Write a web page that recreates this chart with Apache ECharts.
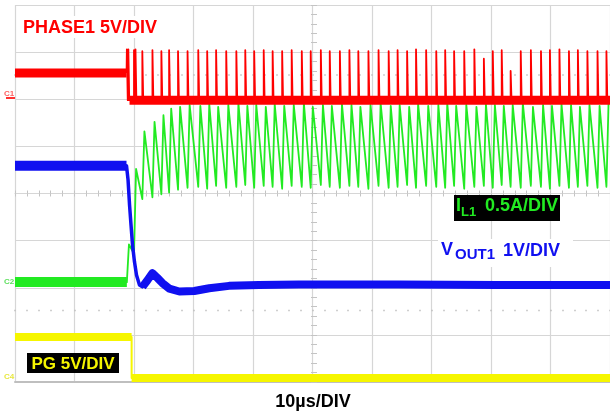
<!DOCTYPE html>
<html>
<head>
<meta charset="utf-8">
<script src="https://cdn.jsdelivr.net/npm/echarts@6/dist/echarts.min.js"></script>
<style>
html,body{margin:0;padding:0;background:#fff;}
#scope{width:610px;height:414px;}
</style>
</head>
<body>
<div id="scope"></div>
<script>
// ---- Time base: 10 µs/div, 10 divisions; 8 vertical divisions ----
const timeSpan = [0, 100];      // µs
const divSpan = [0, 8];         // vertical divisions

// ---- Channel 1: PHASE1 (V), 5 V/div ----
const phaseIdle = 2.79;          // level before switching starts
const phaseLow = -0.1;           // level between pulses
const phaseFirstEdge = 18.75;    // µs
const phaseSpikeTimes = [
  18.8, 19.05, 20.0, 20.25, 21.4, 23.1, 24.6, 25.9, 27.4, 29.0,
  30.8, 32.3, 33.8, 35.5, 37.2, 38.7, 40.2, 41.8, 43.3, 44.9,
  46.5, 48.2, 49.7, 51.4, 52.9, 54.6, 56.2, 57.7, 59.4, 61.1,
  62.8, 64.3, 65.9, 67.4, 69.1, 70.8, 72.3, 73.8, 75.5, 77.2,
  78.8, 80.3, 81.8, 83.3, 85.0, 86.7, 88.4, 89.9, 91.5, 93.1,
  94.6, 96.2, 97.9, 99.4
];
const phaseSpikeVolts = [
  5.3, 5.3, 5.2, 5.3, 5.1, 5.2, 5.1, 5.2, 5.1, 5.1,
  5.2, 5.1, 5.2, 5.1, 5.1, 5.2, 5.1, 5.2, 5.1, 5.1,
  5.2, 5.1, 5.1, 5.2, 5.1, 5.1, 5.2, 5.1, 5.1, 5.2,
  5.1, 5.2, 5.1, 5.3, 5.2, 5.1, 5.2, 5.1, 5.1, 5.3,
  4.3, 5.1, 5.2, 3.0, 5.1, 5.2, 5.1, 5.2, 5.3, 5.1,
  5.2, 5.1, 5.1, 5.1
];

// ---- Channel 2: IL1 (A), 0.5 A/div ----
const ilIdle = 0.0;
const ilCycleTimes = [
  18.8, 20.0, 21.4, 23.1, 24.6, 25.9, 27.4, 29.0, 30.8, 32.3,
  33.8, 35.5, 37.2, 38.7, 40.2, 41.8, 43.3, 44.9, 46.5, 48.2,
  49.7, 51.4, 52.9, 54.6, 56.2, 57.7, 59.4, 61.1, 62.8, 64.3,
  65.9, 67.4, 69.1, 70.8, 72.3, 73.8, 75.5, 77.2, 78.8, 80.3,
  81.8, 83.3, 85.0, 86.7, 88.4, 89.9, 91.5, 93.1, 94.6, 96.2,
  97.9, 99.4
];
const ilValley = [
  0.00, 0.30, 0.88, 0.90, 0.93, 0.95, 0.98, 1.00, 1.01, 0.99,
  1.02, 1.00, 1.01, 1.03, 1.00, 1.02, 1.01, 0.99, 1.02, 1.01,
  1.00, 1.03, 1.01, 1.00, 1.02, 1.01, 0.99, 1.02, 1.00, 1.01,
  1.03, 1.00, 1.02, 1.01, 1.00, 1.02, 0.99, 1.01, 1.02, 1.00,
  1.03, 1.01, 1.00, 1.02, 1.01, 0.99, 1.02, 1.00, 1.01, 1.02,
  1.00, 1.01
];
const ilPeak = [
  0.40, 1.20, 1.60, 1.70, 1.77, 1.84, 1.86, 1.88, 1.87, 1.89,
  1.86, 1.88, 1.90, 1.87, 1.88, 1.86, 1.89, 1.87, 1.88, 1.90,
  1.86, 1.88, 1.87, 1.89, 1.88, 1.86, 1.88, 1.90, 1.87, 1.88,
  1.86, 1.89, 1.87, 1.88, 1.90, 1.87, 1.88, 1.86, 1.89, 1.88,
  1.87, 1.88, 1.90, 1.86, 1.88, 1.87, 1.89, 1.88, 1.86, 1.88,
  1.87, 1.89
];

// ---- Channel 3: VOUT1 (V), 1 V/div ----
const voutTimes = [0, 18.74, 19.0, 19.25, 19.5, 19.75, 20.08, 20.42, 20.92, 21.42,
  22.26, 23.10, 23.93, 24.77, 25.94, 27.62, 30.13, 32.64, 35.98, 41.0, 47.7, 64.4, 81.2, 100];
const voutVolts = [3.33, 3.33, 3.03, 2.50, 2.07, 1.65, 1.29, 1.01, 0.80, 0.76,
  0.90, 1.05, 0.95, 0.84, 0.72, 0.66, 0.67, 0.73, 0.78, 0.80, 0.81, 0.81, 0.80, 0.80];

// ---- Channel 4: PG (V), 5 V/div ----
const pgTimes = [0, 19.6, 19.6, 100];
const pgVolts = [4.35, 4.35, 0.0, 0.0];

// ---- Channel vertical settings (ground position in divisions, units per division) ----
const ch1 = { ground: 6.0, perDiv: 5 };
const ch2 = { ground: 2.12, perDiv: 0.5 };
const ch3 = { ground: 1.26, perDiv: 1 };
const ch4 = { ground: 0.085, perDiv: 5 };

const toDiv = (ch, pts) => pts.map(([t, v]) => [t, ch.ground + v / ch.perDiv]);
const zip = (ts, vs) => ts.map((t, i) => [t, vs[i]]);

const SPIKE_W = 0.15;   // µs, pulse width of the phase node
const RISE_W = 0.35;    // µs, inductor current ramp-up

// PHASE1 pulses
const phasePulse = [[phaseFirstEdge, phaseIdle]];
phaseSpikeTimes.forEach((t, i) => {
  phasePulse.push([t, phaseLow], [t, phaseSpikeVolts[i]], [t + SPIKE_W, phaseSpikeVolts[i]], [t + SPIKE_W, phaseLow]);
});
phasePulse[1] = [phaseSpikeTimes[0], phaseIdle];
const phaseBandIdle = [[timeSpan[0], phaseIdle], [phaseFirstEdge, phaseIdle]];
const phaseBandLow = [[19.25, phaseLow], [timeSpan[1], phaseLow]];

// IL1 sawtooth
const ilWave = [[timeSpan[0], ilIdle]];
ilCycleTimes.forEach((t, i) => {
  ilWave.push([t, ilValley[i]], [t + RISE_W, ilPeak[i]]);
});
const ilBand = [[timeSpan[0], ilIdle], [ilCycleTimes[0], ilIdle]];

// VOUT1
const voutWave = zip(voutTimes, voutVolts);
const voutBandPre = voutWave.filter(p => p[0] <= 18.74);
const voutBandPost = voutWave.filter(p => p[0] >= 21.42);

// PG
const pgWave = zip(pgTimes, pgVolts);
const pgBandHigh = pgWave.slice(0, 2);
const pgBandLow = pgWave.slice(2);

const RED = '#ff0000', GREEN = '#22ea22', BLUE = '#1010f0', YELLOW = '#f6f600';
const GRID = '#d6d6d6';
const FONT = '"Liberation Sans", Arial, sans-serif';

function trace(data, color, width, z) {
  return {
    type: 'line', data, showSymbol: false, silent: true, animation: false,
    xAxisIndex: 0, yAxisIndex: 0, z,
    lineStyle: { color, width, join: 'round', cap: 'butt' }
  };
}

function hAxis(extra) {
  return Object.assign({
    type: 'value', gridIndex: 0, min: timeSpan[0], max: timeSpan[1], interval: 2,
    axisLabel: { show: false }, splitLine: { show: false },
    axisLine: { show: false }, axisTick: { show: false }
  }, extra);
}
function vAxis(extra) {
  return Object.assign({
    type: 'value', gridIndex: 0, min: divSpan[0], max: divSpan[1], interval: 0.2,
    axisLabel: { show: false }, splitLine: { show: false },
    axisLine: { show: false }, axisTick: { show: false }
  }, extra);
}

const chart = echarts.init(document.getElementById('scope'), null, { renderer: 'canvas' });

chart.setOption({
  animation: false,
  backgroundColor: '#ffffff',
  grid: { left: 15, top: 5, width: 598, height: 377 },
  xAxis: [
    // main graticule (verticals)
    hAxis({ interval: 10, position: 'bottom', splitLine: { show: true, lineStyle: { color: GRID, width: 1.2 } } }),
    // top frame
    hAxis({ interval: 10, position: 'top', axisLine: { show: true, lineStyle: { color: '#bfbfbf', width: 2 } } }),
    // center horizontal with minor ticks
    hAxis({ position: 'bottom', offset: -188.5, axisLine: { show: true, lineStyle: { color: GRID, width: 1.2 } },
      axisTick: { show: true, inside: true, length: 3, lineStyle: { color: '#c4c4c4', width: 1 } } }),
    hAxis({ position: 'bottom', offset: -188.5,
      axisTick: { show: true, inside: false, length: 3, lineStyle: { color: '#c4c4c4', width: 1 } } }),
    // dotted rows
    hAxis({ position: 'bottom', offset: -70.7,
      axisTick: { show: true, inside: true, length: 1.5, lineStyle: { color: '#c0c0c0', width: 1.5 } } }),
    hAxis({ position: 'bottom', offset: -306.3,
      axisTick: { show: true, inside: true, length: 1.5, lineStyle: { color: '#c0c0c0', width: 1.5 } } })
  ],
  yAxis: [
    vAxis({ interval: 1, position: 'left', splitLine: { show: true, lineStyle: { color: GRID, width: 1.2 } } }),
    // center vertical with minor ticks
    vAxis({ position: 'left', offset: -299,
      axisTick: { show: true, inside: true, length: 3, lineStyle: { color: '#c4c4c4', width: 1 } } }),
    vAxis({ position: 'left', offset: -299,
      axisTick: { show: true, inside: false, length: 3, lineStyle: { color: '#c4c4c4', width: 1 } } })
  ],
  series: [
    trace(toDiv(ch4, pgWave), YELLOW, 2, 2),
    trace(toDiv(ch4, pgBandHigh), YELLOW, 8, 2),
    trace(toDiv(ch4, pgBandLow), YELLOW, 8, 2),
    trace(toDiv(ch2, ilBand), GREEN, 10, 3),
    trace(toDiv(ch2, ilWave), GREEN, 1.8, 3),
    trace(toDiv(ch3, voutWave), BLUE, 3.5, 4),
    trace(toDiv(ch3, voutBandPre), BLUE, 10, 4),
    trace(toDiv(ch3, voutBandPost), BLUE, 8, 4),
    trace(toDiv(ch1, phaseBandIdle), RED, 9, 5),
    trace(toDiv(ch1, phaseBandLow), RED, 9, 5),
    trace(toDiv(ch1, phasePulse), RED, 1.8, 5)
  ],
  graphic: [
    // channel 1 title
    { type: 'rect', shape: { x: 20, y: 16, width: 146, height: 22 }, style: { fill: '#ffffff' }, z: 10 },
    { type: 'text', x: 23, y: 28, z: 11,
      style: { text: 'PHASE1 5V/DIV', fill: RED, font: 'bold 18px ' + FONT, textVerticalAlign: 'middle' } },
    // channel 2 title
    { type: 'rect', shape: { x: 454, y: 195, width: 106, height: 26 }, style: { fill: '#000000' }, z: 10 },
    { type: 'text', x: 456, y: 206, z: 11,
      style: { text: 'I', fill: GREEN, font: 'bold 18px ' + FONT, textVerticalAlign: 'middle' } },
    { type: 'text', x: 461, y: 212, z: 11,
      style: { text: 'L1', fill: GREEN, font: 'bold 13px ' + FONT, textVerticalAlign: 'middle' } },
    { type: 'text', x: 485, y: 206, z: 11,
      style: { text: '0.5A/DIV', fill: GREEN, font: 'bold 18px ' + FONT, textVerticalAlign: 'middle' } },
    // channel 3 title
    { type: 'rect', shape: { x: 438, y: 239, width: 135, height: 28 }, style: { fill: '#ffffff' }, z: 10 },
    { type: 'text', x: 441, y: 250, z: 11,
      style: { text: 'V', fill: BLUE, font: 'bold 18px ' + FONT, textVerticalAlign: 'middle' } },
    { type: 'text', x: 455, y: 255, z: 11,
      style: { text: 'OUT1', fill: BLUE, font: 'bold 15px ' + FONT, textVerticalAlign: 'middle' } },
    { type: 'text', x: 503, y: 251, z: 11,
      style: { text: '1V/DIV', fill: BLUE, font: 'bold 18px ' + FONT, textVerticalAlign: 'middle' } },
    // channel 4 title
    { type: 'rect', shape: { x: 27, y: 353, width: 92, height: 20 }, style: { fill: '#000000' }, z: 10 },
    { type: 'text', x: 73, y: 364, z: 11,
      style: { text: 'PG 5V/DIV', fill: YELLOW, font: 'bold 17px ' + FONT, textAlign: 'center', textVerticalAlign: 'middle' } },
    // time base
    { type: 'text', x: 313, y: 402, z: 11,
      style: { text: '10µs/DIV', fill: '#000000', font: 'bold 18px ' + FONT, textAlign: 'center', textVerticalAlign: 'middle' } },
    // ground markers
    { type: 'text', x: 9, y: 94, z: 11,
      style: { text: 'C1', fill: '#ff6060', font: 'bold 8px ' + FONT, textAlign: 'center', textVerticalAlign: 'middle' } },
    { type: 'rect', shape: { x: 6, y: 97, width: 9, height: 2 }, style: { fill: '#ff3030' }, z: 11 },
    { type: 'text', x: 9, y: 282, z: 11,
      style: { text: 'C2', fill: '#60e060', font: 'bold 8px ' + FONT, textAlign: 'center', textVerticalAlign: 'middle' } },
    { type: 'text', x: 9, y: 377, z: 11,
      style: { text: 'C4', fill: '#e8e840', font: 'bold 8px ' + FONT, textAlign: 'center', textVerticalAlign: 'middle' } }
  ]
});
</script>
</body>
</html>
